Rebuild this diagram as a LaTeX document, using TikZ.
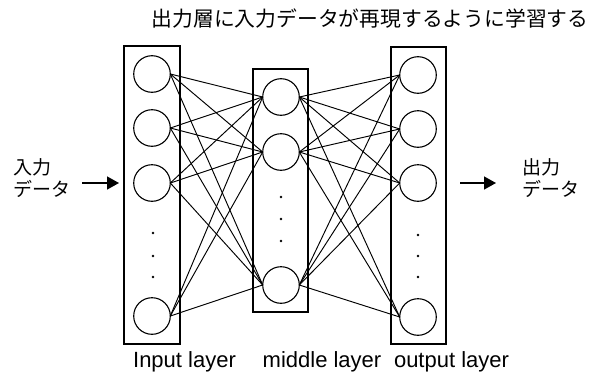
\documentclass[tikz,border=0pt]{standalone}
\usepackage{fontspec}
\setmainfont{Liberation Sans}
\newfontfamily\jpfont{Noto Sans CJK JP}
\usetikzlibrary{arrows.meta}
\begin{document}
\begin{tikzpicture}[x=1pt,y=-1pt,
  layerbox/.style={draw, line width=1.1pt, inner sep=0pt, outer sep=0pt},
  unit/.style={draw, circle, minimum size=36.6pt, inner sep=0pt, outer sep=0pt, line width=1.1pt},
  link/.style={line width=0.95pt},
  vdot/.style={fill, circle, inner sep=0pt, minimum size=2.6pt},
  flow/.style={line width=1.5pt, -{Triangle[length=12pt,width=13pt]}},
  jplabel/.style={font=\jpfont\fontsize{19}{21.5}\selectfont, align=left, inner sep=0pt},
  layerlabel/.style={font=\fontsize{22}{24}\selectfont, anchor=base, inner sep=0pt}]
\useasboundingbox (0,0) rectangle (591,380);
% boxes
\node[layerbox, minimum width=56pt, minimum height=298pt] (inbox) at (152,195) {};
\node[layerbox, minimum width=55pt, minimum height=243pt] (midbox) at (280.5,190.5) {};
\node[layerbox, minimum width=55pt, minimum height=297pt] (outbox) at (418.5,195.5) {};
% input units
\node[unit] (i1) at (152,74) {};
\node[unit] (i2) at (152,128) {};
\node[unit] (i3) at (152,183) {};
\node[unit] (i4) at (152,316) {};
% middle units
\node[unit] (m1) at (281,97) {};
\node[unit] (m2) at (281,152) {};
\node[unit] (m3) at (281,285) {};
% output units
\node[unit] (o1) at (418,75) {};
\node[unit] (o2) at (418,129) {};
\node[unit] (o3) at (418,183) {};
\node[unit] (o4) at (418,317) {};
% dots
\node[vdot] (di1) at (153,233) {};
\node[vdot] (di2) at (153,256) {};
\node[vdot] (di3) at (153,277) {};
\node[vdot] (dm1) at (281,197) {};
\node[vdot] (dm2) at (281,219) {};
\node[vdot] (dm3) at (281,241) {};
\node[vdot] (do1) at (418,235) {};
\node[vdot] (do2) at (418,256) {};
\node[vdot] (do3) at (418,277) {};
% connections
\foreach \a in {i1,i2,i3,i4}{
  \foreach \b in {m1,m2,m3}{
    \draw[link] (\a.east) -- (\b.west);
  }
}
\foreach \a in {m1,m2,m3}{
  \foreach \b in {o1,o2,o3,o4}{
    \draw[link] (\a.east) -- (\b.west);
  }
}
% data arrows
\coordinate (inA) at (82,183);
\coordinate (inB) at (119,183);
\coordinate (outA) at (460,183);
\coordinate (outB) at (496,183);
\draw[flow] (inA) -- (inB);
\draw[flow] (outA) -- (outB);
% labels
\node[jplabel, anchor=west] (inlabel) at (13,178) {入力\\データ};
\node[jplabel, anchor=west] (outlabel) at (522,178) {出力\\データ};
\node[font=\jpfont\fontsize{20.8}{22}\selectfont, inner sep=0pt] (title) at (370,19) {出力層に入力データが再現するように学習する};
\node[layerlabel] (inname) at (184.5,367) {Input layer};
\node[layerlabel] (midname) at (322,367) {middle layer};
\node[layerlabel] (outname) at (451.5,367) {output layer};
\end{tikzpicture}
\end{document}
